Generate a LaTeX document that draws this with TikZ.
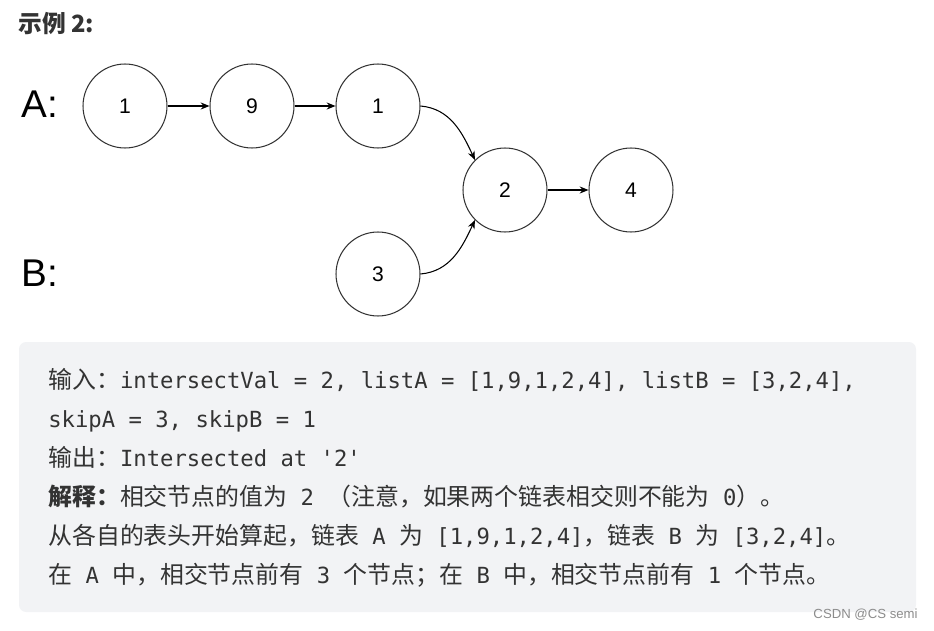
\documentclass[tikz,border=0pt]{standalone}
\usepackage{fontspec}
\setmainfont{Noto Sans CJK SC}
\setsansfont{Liberation Sans}
\setmonofont{DejaVu Sans Mono}[Scale=0.93]
\usetikzlibrary{arrows.meta}

\definecolor{boxgray}{HTML}{F2F3F5}
\definecolor{txtgray}{HTML}{333333}
\newcommand{\mono}[1]{{\ttfamily #1}}

\begin{document}
\begin{tikzpicture}[x=0.02cm,y=0.02cm,
    cell/.style={circle,draw=black!80,line width=0.6pt,minimum size=1.68cm,inner sep=0pt,
      font=\sffamily\fontsize{12}{14}\selectfont},
    listname/.style={font=\sffamily\fontsize{22}{26}\selectfont},
    link/.style={-{Stealth[length=5pt,width=4pt]},line width=0.6pt},
    txtline/.style={anchor=base west,inner sep=0pt,text=txtgray,font=\fontsize{13.6}{16}\selectfont}]
      \useasboundingbox (0,0) rectangle (934,630);

      \node[anchor=base west,inner sep=0pt,text=txtgray,font=\bfseries\fontsize{13.5}{16}\selectfont]
        (title) at (18,597) {示例 2:};

      \node[listname] (la) at (40,526) {A:};
      \node[listname] (lb) at (40,357) {B:};

      \node[cell] (a1) at (125,524) {1};
      \node[cell] (a2) at (252,524) {9};
      \node[cell] (a3) at (378,524) {1};
      \node[cell] (c1) at (505,440) {2};
      \node[cell] (c2) at (631,440) {4};
      \node[cell] (b1) at (378,356) {3};

      \draw[link] (a1) -- (a2);
      \draw[link] (a2) -- (a3);
      \draw[link] (a3.east) to[out=-5,in=115] (c1.135);
      \draw[link] (b1.east) to[out=5,in=-115] (c1.225);
      \draw[link] (c1) -- (c2);

      \fill[boxgray, rounded corners=4pt] (19,18) rectangle (916,288);

      \node[txtline] (l1) at (48,242) {输入：\mono{intersectVal = 2, listA = [1,9,1,2,4], listB = [3,2,4],}};
      \node[txtline] (l2) at (48,203) {\mono{skipA = 3, skipB = 1}};
      \node[txtline] (l3) at (48,164) {输出：\mono{Intersected at '2'}};
      \node[txtline] (l4) at (48,125) {{\bfseries 解释：}相交节点的值为\mono{ 2 }（注意，如果两个链表相交则不能为\mono{ 0}）。};
      \node[txtline] (l5) at (48,86) {从各自的表头开始算起，链表\mono{ A }为\mono{ [1,9,1,2,4]}，链表\mono{ B }为\mono{ [3,2,4]}。};
      \node[txtline] (l6) at (48,47) {在\mono{ A }中，相交节点前有\mono{ 3 }个节点；在\mono{ B }中，相交节点前有\mono{ 1 }个节点。};

      \node[anchor=east,inner sep=0pt,text=black!45,font=\sffamily\fontsize{7.5}{9}\selectfont]
        (mark) at (918,15) {CSDN @CS semi};
\end{tikzpicture}
\end{document}
